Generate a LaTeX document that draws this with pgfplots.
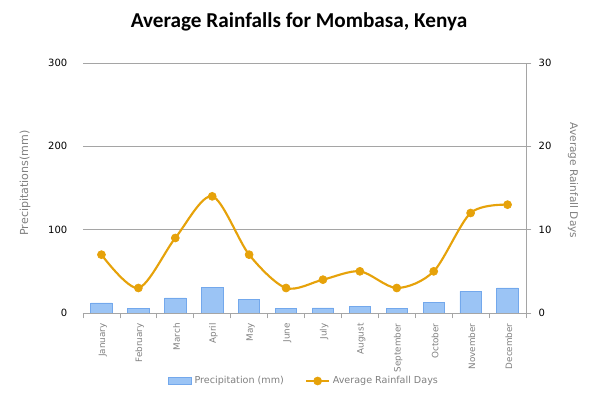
\documentclass[border=0pt]{standalone}
\usepackage{pgfplots}
\pgfplotsset{compat=1.18}
\usepackage{fontspec}
\setmainfont{DejaVu Sans}
\newfontfamily\titlefont{Carlito}
\definecolor{barfill}{RGB}{155,196,245}
\definecolor{bardraw}{RGB}{115,168,236}
\definecolor{linec}{RGB}{230,162,10}
\definecolor{gridc}{RGB}{165,165,165}
\definecolor{labc}{RGB}{128,128,128}
\begin{document}
\begin{tikzpicture}
\path[use as bounding box] (-62.25pt,-64.5pt) rectangle (387.75pt,234.75pt);
\node at (162.0pt,218.0pt) {\titlefont\bfseries\fontsize{15.9}{17}\selectfont Average Rainfalls for Mombasa, Kenya};
\begin{axis}[
  scale only axis, width=332.25pt, height=187.5pt,
  at={(0pt,0pt)}, anchor=south west,
  xmin=-0.5, xmax=11.5, ymin=0, ymax=300,
  axis x line*=bottom, axis y line*=left,
  y axis line style={draw=none},
  x axis line style={gridc, line width=0.6pt, -},
  ytick={0,100,200,300},
  ymajorgrids, grid style={gridc, line width=0.6pt},
  major y tick style={draw=none},
  xtick={0,...,11},
  xticklabels={January,February,March,April,May,June,July,August,September,October,November,December},
  major x tick style={draw=none},
  minor xtick={-0.5,0.5,...,11.5},
  minor x tick style={gridc, line width=0.6pt},
  minor tick length=4pt,
  tick align=outside,
  xticklabel style={rotate=90, anchor=east, text=labc, font=\fontsize{6.6}{7}\selectfont, yshift=-1pt},
  yticklabel style={font=\fontsize{7.5}{8}\selectfont, xshift=-4pt},
  /pgf/number format/assume math mode=true,
  ylabel={Precipitations(mm)},
  every axis y label/.style={at={(-0.131,0.52)}, rotate=90, anchor=center, text=labc, font=\fontsize{8.3}{9}\selectfont},
]
\addplot[ybar, bar width=0.58, fill=barfill, draw=bardraw, line width=0.6pt] coordinates {
(0,12) (1,5) (2,18) (3,31) (4,16) (5,5) (6,6) (7,8) (8,5) (9,13) (10,26) (11,30)};
\end{axis}
\begin{axis}[
  scale only axis, width=332.25pt, height=187.5pt,
  at={(0pt,0pt)}, anchor=south west,
  xmin=-0.5, xmax=11.5, ymin=0, ymax=30,
  axis x line=none, axis y line*=right,
  y axis line style={gridc, line width=0.6pt, -},
  ytick={0,10,20,30},
  major y tick style={gridc, line width=0.6pt},
  major tick length=4pt,
  tick align=outside,
  yticklabel style={font=\fontsize{7.5}{8}\selectfont, xshift=2pt},
  /pgf/number format/assume math mode=true,
  ylabel={Average Rainfall Days},
  every axis y label/.style={at={(1.106,0.53)}, rotate=-90, anchor=center, text=labc, font=\fontsize{7.9}{9}\selectfont},
  legend style={at={(0.5,-0.272)}, anchor=center, draw=none, fill=none, legend columns=2,
    font=\fontsize{7.2}{8}\selectfont, text=labc,
    /tikz/every even column/.append style={column sep=14pt}},
  legend cell align=left,
]
\addlegendimage{area legend, fill=barfill, draw=bardraw, line width=0.6pt}
\addlegendentry{Precipitation (mm)}
\addplot[linec, line width=1.6pt, smooth, mark=*, mark size=3pt, mark options={fill=linec, draw=linec, line width=0.5pt}] coordinates {
(0,7) (1,3) (2,9) (3,14) (4,7) (5,3) (6,4) (7,5) (8,3) (9,5) (10,12) (11,13)};
\addlegendentry{Average Rainfall Days}
\end{axis}
\end{tikzpicture}
\end{document}
